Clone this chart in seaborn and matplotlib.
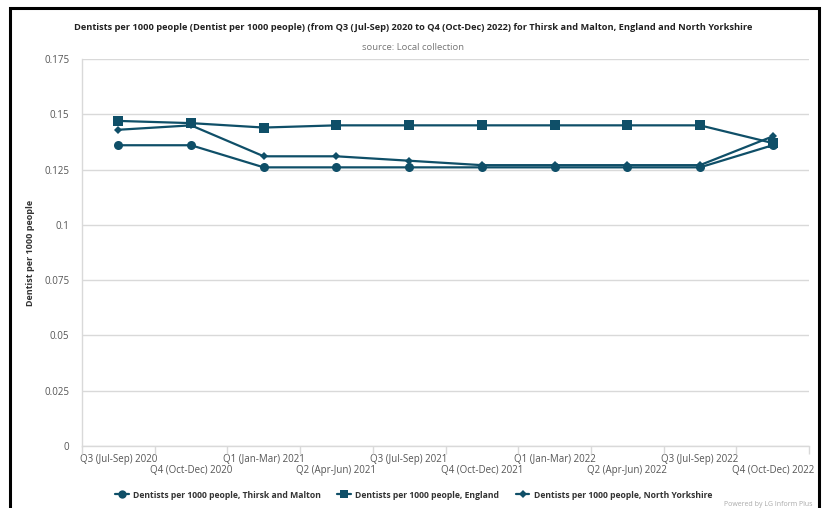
import matplotlib
matplotlib.use("Agg")
import matplotlib.pyplot as plt
from matplotlib.patches import Rectangle
from matplotlib.ticker import FixedLocator
from matplotlib.transforms import ScaledTranslation
import seaborn as sns
import pandas as pd

quarters = [
    "Q3 (Jul-Sep) 2020", "Q4 (Oct-Dec) 2020", "Q1 (Jan-Mar) 2021", "Q2 (Apr-Jun) 2021",
    "Q3 (Jul-Sep) 2021", "Q4 (Oct-Dec) 2021", "Q1 (Jan-Mar) 2022", "Q2 (Apr-Jun) 2022",
    "Q3 (Jul-Sep) 2022", "Q4 (Oct-Dec) 2022",
]
thirsk_malton = [0.136, 0.136, 0.126, 0.126, 0.126, 0.126, 0.126, 0.126, 0.126, 0.136]
england = [0.147, 0.146, 0.144, 0.145, 0.145, 0.145, 0.145, 0.145, 0.145, 0.137]
north_yorkshire = [0.143, 0.145, 0.131, 0.131, 0.129, 0.127, 0.127, 0.127, 0.127, 0.140]

series_names = [
    "Dentists per 1000 people, Thirsk and Malton",
    "Dentists per 1000 people, England",
    "Dentists per 1000 people, North Yorkshire",
]
y_ticks = [0, 0.025, 0.05, 0.075, 0.1, 0.125, 0.15, 0.175]
y_tick_labels = ["0", "0.025", "0.05", "0.075", "0.1", "0.125", "0.15", "0.175"]

rows = []
for name, vals in zip(series_names, [thirsk_malton, england, north_yorkshire]):
    for i, (q, v) in enumerate(zip(quarters, vals)):
        rows.append({"idx": i, "quarter": q, "value": v, "series": name})
df = pd.DataFrame(rows)

sns.set_theme(style="white")
plt.rcParams["font.family"] = ["Open Sans", "DejaVu Sans"]

colour = "#0f4f68"
grid_col = "#d9d9d9"
text_col = "#555555"

fig = plt.figure(figsize=(8.27, 5.08), dpi=100)
ax = fig.add_axes([82 / 827, 1 - 446 / 508, (809 - 82) / 827, (446 - 59) / 508])

sns.lineplot(
    data=df, x="idx", y="value", hue="series", style="series",
    palette=[colour] * 3,
    markers={series_names[0]: "o", series_names[1]: "s", series_names[2]: "D"},
    dashes=False, linewidth=1.6, markeredgewidth=0, ax=ax, legend=False,
)
for line, ms in zip(ax.lines, [6.5, 6.5, 4.2]):
    line.set_markersize(ms)

ax.set_xlim(-0.5, len(quarters) - 0.5)
ax.set_ylim(0, 0.175)
ax.set_yticks(y_ticks)
ax.set_yticklabels(y_tick_labels)
ax.yaxis.grid(True, color=grid_col, linewidth=1)
ax.set_axisbelow(True)

# category labels centred, staggered over two rows; tick marks on boundaries
ax.set_xticks(range(len(quarters)))
ax.set_xticklabels(quarters)
ax.xaxis.set_minor_locator(FixedLocator([i - 0.5 for i in range(len(quarters) + 1)]))
ax.tick_params(axis="x", which="major", length=0, pad=6, labelsize=7, labelcolor=text_col)
ax.tick_params(axis="x", which="minor", length=6, width=1, color=grid_col, direction="out", bottom=True)
ax.tick_params(axis="y", length=0, pad=9, labelsize=7, labelcolor=text_col)
shift = ScaledTranslation(0, -11 / 100, fig.dpi_scale_trans)
for i, lab in enumerate(ax.get_xticklabels()):
    if i % 2 == 1:
        lab.set_transform(lab.get_transform() + shift)

for side in ["top", "right"]:
    ax.spines[side].set_visible(False)
ax.spines["left"].set_color(grid_col)
ax.spines["bottom"].set_color(grid_col)
ax.spines["left"].set_linewidth(1)
ax.spines["bottom"].set_linewidth(1)

ax.set_xlabel("")
ax.set_ylabel("Dentist per 1000 people", fontsize=6.5, fontweight="bold", color="#333333", labelpad=7)

fig.text(0.5, 1 - 27 / 508, "Dentists per 1000 people (Dentist per 1000 people) (from Q3 (Jul-Sep) 2020 to Q4 (Oct-Dec) 2022) for Thirsk and Malton, England and North Yorkshire",
         ha="center", va="center", fontsize=6.65, fontweight="bold", color="#222222")
fig.text(0.5, 1 - 47 / 508, "source: Local collection", ha="center", va="center", fontsize=6.8, color="#777777")
fig.text(812 / 827, 1 - 505 / 508, "Powered by LG Inform Plus", ha="right", va="center", fontsize=5, color="#aaaaaa")

handles = [
    plt.Line2D([], [], color=colour, marker=m, markersize=s, linewidth=1.6, markeredgewidth=0)
    for m, s in zip(["o", "s", "D"], [6, 6, 4])
]
fig.legend(handles, series_names, loc="center", bbox_to_anchor=(0.5, 1 - 495 / 508), ncol=3,
           frameon=False, prop={"size": 6.2, "weight": "bold"}, handlelength=1.6,
           columnspacing=1.9, handletextpad=0.5, labelcolor="#333333")

# outer black frame
fig.patches.append(Rectangle((10 / 827, -0.05), (819 - 10) / 827, 1.05 - 8 / 508, transform=fig.transFigure,
                             fill=False, edgecolor="black", linewidth=2.2, figure=fig))

fig.savefig("out.png", dpi=100)
